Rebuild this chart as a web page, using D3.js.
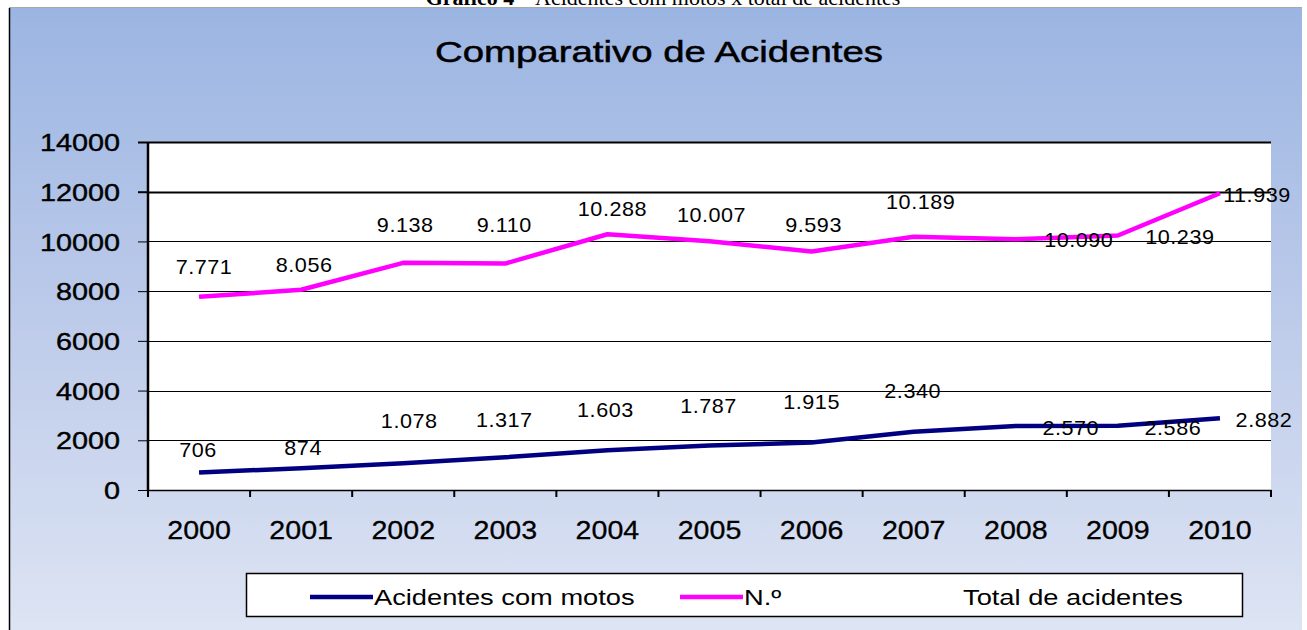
<!DOCTYPE html>
<html>
<head>
<meta charset="utf-8">
<script src="https://cdn.jsdelivr.net/npm/d3@7"></script>
<style>
  html, body { margin: 0; padding: 0; background: #ffffff; }
  svg { display: block; }
</style>
</head>
<body>
<svg id="chart" width="1307" height="630"></svg>
<script>
// ---- data ----
const years = ["2000","2001","2002","2003","2004","2005","2006","2007","2008","2009","2010"];
const motos = [706, 874, 1078, 1317, 1603, 1787, 1915, 2340, 2570, 2586, 2882];
const total = [7771, 8056, 9138, 9110, 10288, 10007, 9593, 10189, 10090, 10239, 11939];
const yTicks = [0, 2000, 4000, 6000, 8000, 10000, 12000, 14000];
const titleText = "Comparativo de Acidentes";
const captionBold = "Gráfico 4";
const captionRest = " – Acidentes com motos x total de acidentes";
const legendNames = ["Acidentes com motos", "N.º", "Total de acidentes"];

// ---- layout (label nudges in pixels, as placed in the original) ----
const totalLabelNudge = [[5,-23],[3,-18],[2,-31],[-1,-32],[5,-18],[2,-19],[2,-20],[7,-28],[63,8],[62,8.5],[37,9]];
const motosLabelNudge = [[-1,-15.5],[2,-13],[6,-35],[-1,-30],[-2,-33],[-1,-32.6],[0,-33.4],[-1,-34],[55,9],[55,9.3],[44,8.6]];

const svg = d3.select("#chart");
const W = 1307, H = 630;
const plot = {left: 148, right: 1271, top: 142, bottom: 490};
const FONT = "'Liberation Sans', Arial, sans-serif";

// gradient
const defs = svg.append("defs");
const grad = defs.append("linearGradient").attr("id","bg").attr("x1",0).attr("y1",0).attr("x2",0).attr("y2",1);
grad.append("stop").attr("offset","0%").attr("stop-color","#9bb5e2");
grad.append("stop").attr("offset","50%").attr("stop-color","#bdcbea");
grad.append("stop").attr("offset","100%").attr("stop-color","#dde4f3");

// caption (clipped at top, as in the original)
const cap = svg.append("text")
  .attr("x", 663).attr("y", 5)
  .attr("text-anchor","middle")
  .attr("font-family","'Liberation Serif', 'Times New Roman', serif")
  .attr("font-size", 22)
  .attr("fill","#000");
cap.append("tspan").attr("font-weight","bold").text(captionBold);
cap.append("tspan").text(captionRest);

// chart background
svg.append("rect").attr("x",9).attr("y",8).attr("width",1293).attr("height",H-8).attr("fill","url(#bg)");
svg.append("line").attr("x1",9).attr("x2",1302).attr("y1",7.5).attr("y2",7.5).attr("stroke","#a8a8a8").attr("stroke-width",1);
svg.append("line").attr("x1",9.5).attr("x2",9.5).attr("y1",8).attr("y2",H).attr("stroke","#000").attr("stroke-width",1.5);

// title
svg.append("text")
  .attr("transform","translate(659,62) scale(1.28,1)")
  .attr("text-anchor","middle")
  .attr("font-family",FONT)
  .attr("font-size",30)
  .attr("fill","#000")
  .attr("stroke","#000").attr("stroke-width",0.5)
  .text(titleText);

// scales
const x = d3.scaleBand().domain(years).range([plot.left, plot.right]).padding(0);
const y = d3.scaleLinear().domain([0,14000]).range([plot.bottom, plot.top]);
const cx = d => x(d) + x.bandwidth()/2;

// plot area
svg.append("rect").attr("x",plot.left).attr("y",plot.top)
  .attr("width",plot.right-plot.left).attr("height",plot.bottom-plot.top).attr("fill","#fff");

// gridlines
svg.append("g").selectAll("line").data(yTicks.filter(t => t > 0)).join("line")
  .attr("x1",plot.left).attr("x2",plot.right)
  .attr("y1",d => Math.round(y(d))+0.5).attr("y2",d => Math.round(y(d))+0.5)
  .attr("stroke","#000")
  .attr("stroke-width",d => d >= 12000 ? 2 : 1);

// y axis
const yAxisG = svg.append("g").attr("transform",`translate(${plot.left},0)`)
  .call(d3.axisLeft(y).tickValues(yTicks).tickSize(10).tickFormat(d3.format("d")));
yAxisG.select(".domain").attr("stroke","#000").attr("stroke-width",2.5).attr("d",`M0,${plot.top}V${plot.bottom}`);
yAxisG.selectAll(".tick line").attr("stroke","#000").attr("stroke-width",d => d >= 12000 ? 2 : 1);
yAxisG.selectAll(".tick text")
  .attr("x", -28/1.2).attr("dy","0.36em")
  .attr("transform","scale(1.2,1)")
  .attr("font-family",FONT).attr("font-size",24).attr("fill","#000")
  .attr("stroke","#000").attr("stroke-width",0.4);

// x axis
const xAxisG = svg.append("g").attr("transform",`translate(0,${plot.bottom})`)
  .call(d3.axisBottom(x).tickSize(0));
xAxisG.select(".domain").attr("stroke","#000").attr("stroke-width",1.5);
xAxisG.selectAll(".tick text")
  .attr("x",0).attr("y",49).attr("dy",0)
  .attr("transform","scale(1.1,1)")
  .attr("font-family",FONT).attr("font-size",26).attr("fill","#000")
  .attr("stroke","#000").attr("stroke-width",0.3);
// boundary tick marks
const bounds = years.map(d => x(d)).concat([x(years[years.length-1]) + x.bandwidth()]);
svg.append("g").selectAll("line").data(bounds).join("line")
  .attr("x1",d => d).attr("x2",d => d)
  .attr("y1",plot.bottom).attr("y2",plot.bottom+7)
  .attr("stroke","#000").attr("stroke-width",2);

// lines
const line = d3.line().x((d,i) => cx(years[i])).y(d => y(d));
svg.append("path").datum(total).attr("d",line)
  .attr("fill","none").attr("stroke","#ff00ff").attr("stroke-width",4.5).attr("stroke-linejoin","round");
svg.append("path").datum(motos).attr("d",line)
  .attr("fill","none").attr("stroke","#000080").attr("stroke-width",4.5).attr("stroke-linejoin","round");

// data labels
const fmt = v => d3.format(",")(v).replace(/,/g,".");
function labels(values, nudge) {
  svg.append("g").selectAll("text").data(values).join("text")
    .attr("transform",(d,i) => `translate(${cx(years[i]) + nudge[i][0]},${y(d) + nudge[i][1]}) scale(1.08,1)`)
    .attr("text-anchor","middle")
    .attr("font-family",FONT).attr("font-size",20)
    .attr("letter-spacing","0.5px")
    .attr("fill","#000")
    .text(d => fmt(d));
}
labels(total, totalLabelNudge);
labels(motos, motosLabelNudge);

// legend
const lg = svg.append("g");
lg.append("rect").attr("x",246.5).attr("y",573.5).attr("width",996).attr("height",43)
  .attr("fill","#fff").attr("stroke","#000").attr("stroke-width",1.5);
const legendItems = [
  {name: legendNames[0], color:"#000080", x1:310, x2:373},
  {name: legendNames[1], color:"#ff00ff", x1:680, x2:743},
  {name: legendNames[2], color:null, x1:963, x2:963}
];
legendItems.forEach(it => {
  if (it.color) {
    lg.append("line").attr("x1",it.x1).attr("x2",it.x2).attr("y1",597).attr("y2",597)
      .attr("stroke",it.color).attr("stroke-width",4.5);
  }
  lg.append("text")
    .attr("transform",`translate(${it.x2 + (it.color ? 1 : 0)},605) scale(1.24,1)`)
    .attr("font-family",FONT).attr("font-size",22).attr("fill","#000")
    .text(it.name);
});
</script>
</body>
</html>
